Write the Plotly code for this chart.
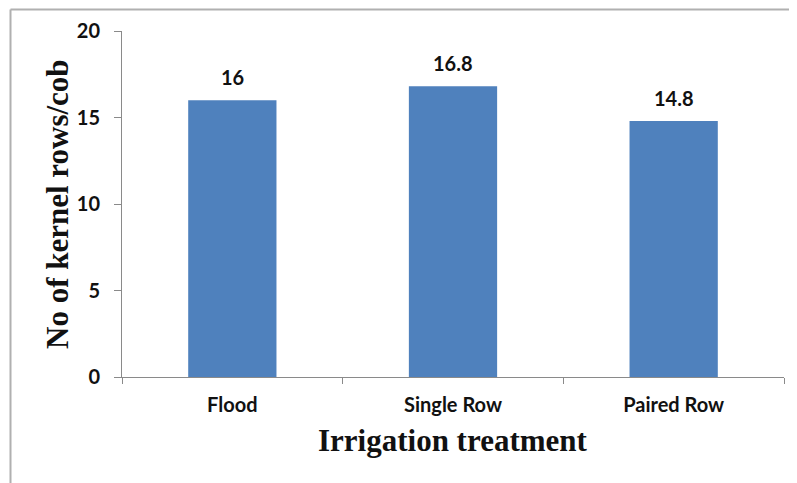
import plotly.graph_objects as go

categories = ["Flood", "Single Row", "Paired Row"]
values = [16, 16.8, 14.8]
value_labels = ["16", "16.8", "14.8"]
y_ticks = [0, 5, 10, 15, 20]

W, H = 797, 483
L, R, T, B = 114, 21, 23, 114
pw, ph = W - L - R, H - T - B

def px_x(x):
    return (x - L) / pw

def px_y(y):
    return 1 - (y - T) / ph

lbl_font = dict(family="Lato, Open Sans, sans-serif", size=20, color="#111", weight="bold")
title_font = dict(family="Liberation Serif, Times New Roman, serif", size=31, color="#111", weight="bold")

fig = go.Figure()
fig.add_trace(go.Bar(
    x=categories, y=values, width=0.40,
    marker=dict(color="#4F81BD", line=dict(width=0)),
    hoverinfo="skip",
))

for c, v, t in zip(categories, values, value_labels):
    fig.add_annotation(x=c, y=v, text=t, showarrow=False,
                       yanchor="bottom", yshift=9, font=lbl_font)

axis_col = "#8a8a8a"
fig.update_xaxes(
    type="category", showline=True, linecolor=axis_col, linewidth=1,
    ticks="outside", tickson="boundaries", ticklen=6, tickcolor=axis_col,
    showgrid=False, zeroline=False, automargin=False,
    tickfont=lbl_font, ticklabelstandoff=10,
)
fig.update_yaxes(
    range=[0, 20], tickvals=y_ticks, showline=True, linecolor=axis_col, linewidth=1,
    ticks="outside", ticklen=7, tickcolor=axis_col, showgrid=False, zeroline=False,
    automargin=False, tickfont=lbl_font, ticklabelstandoff=10,
)

fig.add_annotation(xref="paper", yref="paper", x=px_x(445), y=px_y(433),
                   text="Irrigation treatment", showarrow=False,
                   xanchor="center", yanchor="middle", font=title_font)
fig.add_annotation(xref="paper", yref="paper", x=px_x(49), y=px_y(196),
                   text="No of kernel rows/cob", showarrow=False, textangle=-90,
                   xanchor="center", yanchor="middle", font=title_font)

fx0 = px_x(2.5)
fy0 = px_y(1.5)
fig.add_shape(type="line", xref="paper", yref="paper", x0=fx0, x1=fx0, y0=px_y(490), y1=fy0,
              line=dict(color="#b0b0b0", width=2))
fig.add_shape(type="line", xref="paper", yref="paper", x0=fx0, x1=px_x(805), y0=fy0, y1=fy0,
              line=dict(color="#b0b0b0", width=2))

fig.update_layout(
    width=W, height=H, margin=dict(l=L, r=R, t=T, b=B, autoexpand=False),
    paper_bgcolor="white", plot_bgcolor="white", showlegend=False,
    bargap=0.6,
)
fig.write_html("out.html")
